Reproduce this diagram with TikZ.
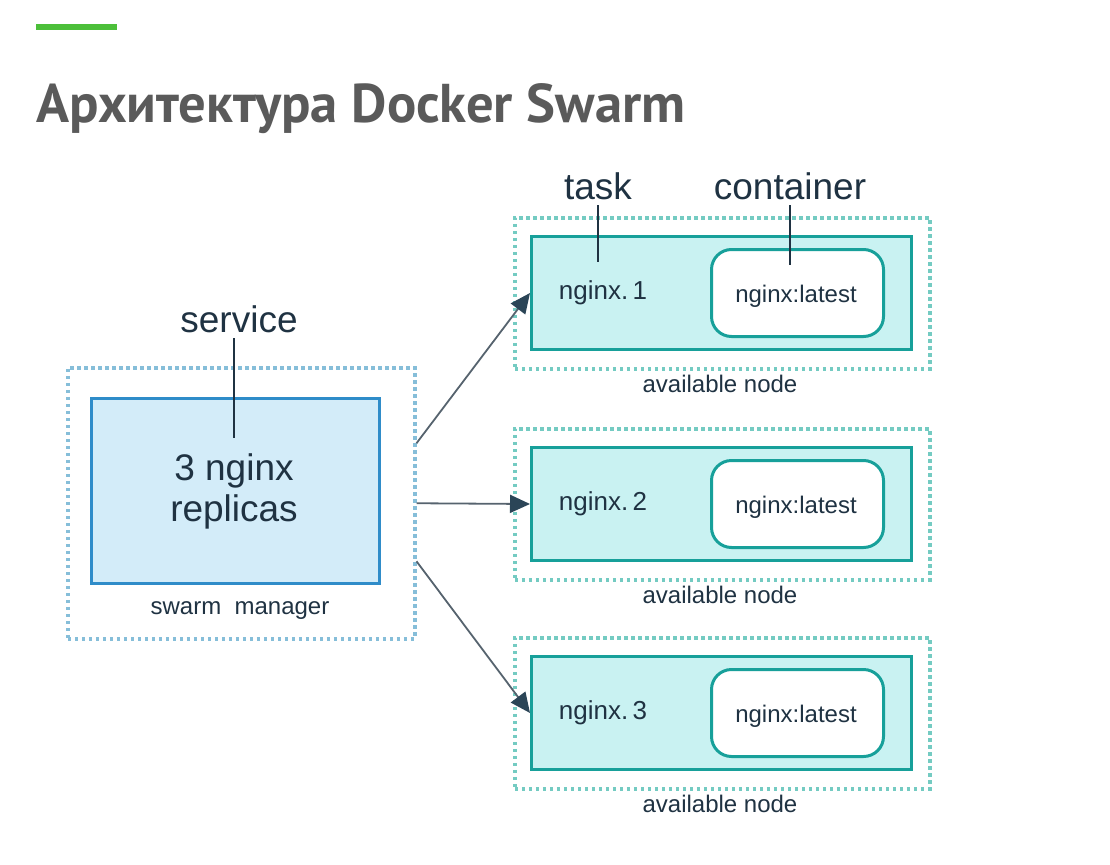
\documentclass[tikz,border=0pt]{standalone}
\usepackage{fontspec}
\setmainfont{Liberation Sans}
\newfontfamily\titlefont{PT Sans}
\usetikzlibrary{arrows.meta}
\definecolor{titlegray}{HTML}{5A5A5A}
\definecolor{barGreen}{HTML}{4CBF3A}
\definecolor{ink}{HTML}{1F3242}
\definecolor{mgrDot}{HTML}{86BED9}
\definecolor{mgrFill}{HTML}{D3ECF9}
\definecolor{mgrLine}{HTML}{2F8CC9}
\definecolor{wDot}{HTML}{74CBC2}
\definecolor{wFill}{HTML}{C9F2F2}
\definecolor{wLine}{HTML}{17A09A}
\definecolor{arrGray}{HTML}{56636E}
\definecolor{arrHead}{HTML}{2B4557}
\tikzset{
  dotbox/.style={draw, line width=3.5pt, dash pattern=on 3.5pt off 3.5pt, inner sep=0, anchor=north west},
  mgrbox/.style={draw=mgrLine, fill=mgrFill, line width=3pt, inner sep=0, anchor=north west},
  workbox/.style={draw=wLine, fill=wFill, line width=3pt, inner sep=0, anchor=north west},
  contbox/.style={draw=wLine, fill=white, line width=3pt, rounded corners=20pt, inner sep=0, anchor=north west},
  big/.style={text=ink, font=\fontsize{37}{41}\selectfont, inner sep=0},
  mid/.style={text=ink, font=\fontsize{26}{30}\selectfont, inner sep=0},
  small/.style={text=ink, font=\fontsize{24}{28}\selectfont, inner sep=0},
  leader/.style={draw=ink, line width=1.6pt},
  flow/.style={draw=arrGray, line width=1.8pt, -{Triangle[length=20pt,width=18pt,color=arrHead]}}
}
\begin{document}
\begin{tikzpicture}[x=1pt,y=-1pt]
\useasboundingbox (0,0) rectangle (1110,864);
% header
\fill[barGreen] (36,24) rectangle (117,30);
\node[anchor=base west, text=titlegray, inner sep=0] (title) at (36,122)
  {\resizebox{649pt}{!}{\titlefont\bfseries Архитектура Docker Swarm}};
% swarm manager
\node[dotbox, draw=mgrDot, minimum width=347pt, minimum height=271pt] (mgrout) at (66,366) {};
\node[mgrbox, minimum width=288pt, minimum height=185pt] (mgr) at (90,397) {};
\node[big, align=center] (replicas) at (234,491) {3 nginx\\replicas};
\node[small] (mgrlbl) at (240,611) {swarm\ \ manager};
\node[big] (service) at (239,319) {service};
\coordinate (svcTop) at (234,338);
\coordinate (svcBot) at (234,438);
\draw[leader] (svcTop) -- (svcBot);
% worker nodes
\foreach \i/\y in {1/216,2/427,3/636}{
  \node[dotbox, draw=wDot, minimum width=415pt, minimum height=151pt] (out\i) at (513,\y) {};
  \node[workbox, minimum width=380pt, minimum height=113pt] (in\i) at (530,\y+19) {};
  \node[contbox, minimum width=172pt, minimum height=87pt] (cont\i) at (710,\y+32) {};
  \node[mid] (task\i) at (603,\y+77) {nginx.\,\i};
  \node[small] (img\i) at (796,\y+80) {nginx:latest};
  \node[small] (avail\i) at (720,\y+168) {available node};
}
\node[big] (tasklbl) at (598,186) {task};
\node[big] (contlbl) at (790,186) {container};
\coordinate (taskTop) at (598,205);
\coordinate (taskBot) at (598,262);
\coordinate (contTop) at (790,205);
\coordinate (contBot) at (790,265);
\draw[leader] (taskTop) -- (taskBot);
\draw[leader] (contTop) -- (contBot);
% arrows
\coordinate (s1) at ([yshift=60pt]mgrout.east);
\coordinate (s3) at ([yshift=-58pt]mgrout.east);
\draw[flow] (s1) -- (in1.west);
\draw[flow] (mgrout.east) -- (in2.west);
\draw[flow] (s3) -- (in3.west);
\end{tikzpicture}
\end{document}
